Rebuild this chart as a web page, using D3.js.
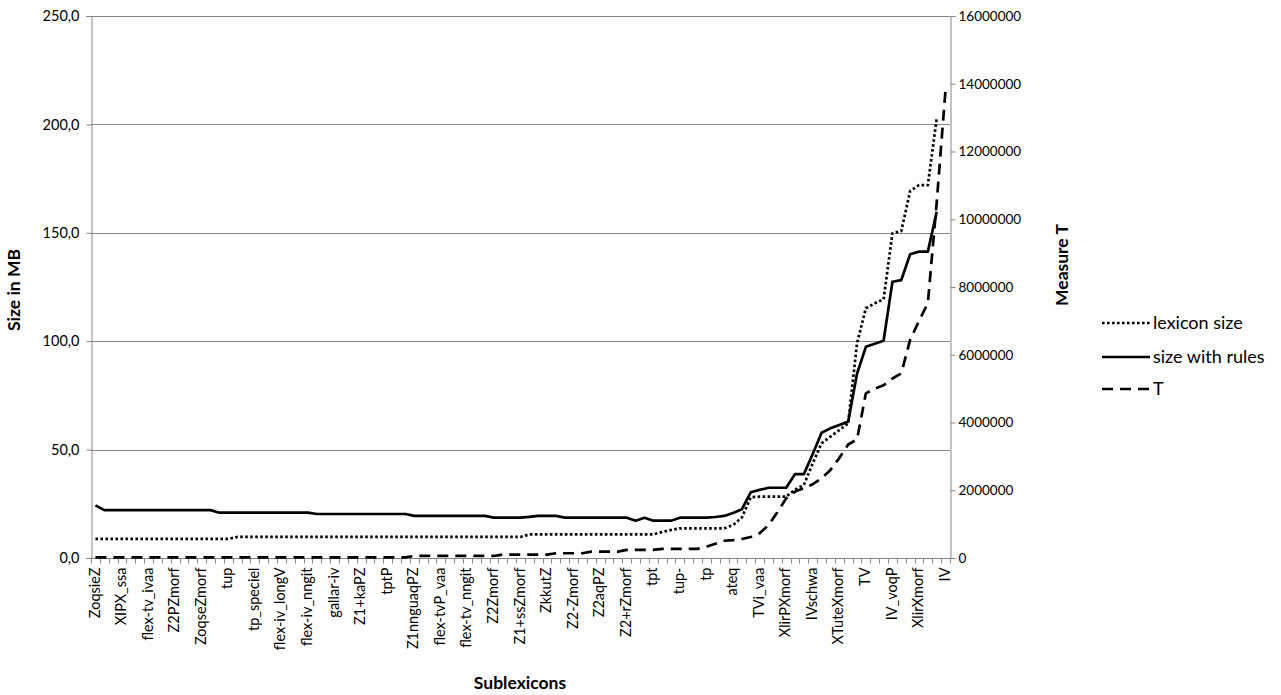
<!DOCTYPE html>
<html>
<head>
<meta charset="utf-8">
<script src="https://cdn.jsdelivr.net/npm/d3@7"></script>
<style>
  html, body { margin: 0; padding: 0; background: #ffffff; }
  svg { display: block; font-family: Lato, "Open Sans", sans-serif; }
</style>
</head>
<body>
<svg id="chart" width="1281" height="695"></svg>
<script>
// ---- Data ----
// 97 sublexicons; only every third name is printed on the axis in the reference
const labelledCategories = [
  "ZoqsieZ", "XIPX_ssa", "flex-tv_ivaa", "Z2PZmorf", "ZoqseZmorf", "tup", "tp_speciel",
  "flex-iv_longV", "flex-iv_nngit", "gallar-iv", "Z1+kaPZ", "tptP", "Z1nnguaqPZ",
  "flex-tvP_vaa", "flex-tv_nngit", "Z2Zmorf", "Z1+ssZmorf", "ZkkutZ", "Z2-Zmorf",
  "Z2aqPZ", "Z2+rZmorf", "tpt", "tup-", "tp", "ateq", "TVi_vaa", "XlirPXmorf",
  "IVschwa", "XTuteXmorf", "TV", "IV_voqP", "XlirXmorf", "IV"
];
const categoryCount = 97;
const labelStep = 3;

// lexicon size (MB)
const lexiconSize = [
  8.8, 8.8, 8.8, 8.8, 8.8, 8.8, 8.8, 8.8, 8.8, 8.8, 8.8, 8.8, 8.8, 8.8, 8.8, 8.8,
  9.7, 9.7, 9.7, 9.7, 9.7, 9.7, 9.7, 9.7, 9.7, 9.7, 9.7, 9.7, 9.7, 9.7, 9.7, 9.7, 9.7,
  9.7, 9.7, 9.7, 9.7, 9.7, 9.7, 9.7, 9.7, 9.7, 9.7, 9.7, 9.7, 9.7, 9.7, 9.7, 9.7,
  10.9, 10.9, 10.9, 10.9, 10.9, 10.9, 10.9, 10.9, 10.9, 10.9, 10.9, 10.9, 10.9, 10.9, 10.9,
  12.0, 12.9, 13.7, 13.7, 13.7, 13.7, 13.7, 13.7, 15.2, 18.7, 28.0,
  28.3, 28.3, 28.3, 28.3, 31.5, 33.7, 43.7, 52.9, 56.0, 59.0, 62.1,
  99.0, 115.2, 117.5, 119.3, 149.8, 150.8, 169.3, 172.0, 172.0, 202.8, null
];

// size with rules (MB)
const sizeWithRules = [
  24.3,
  22.1, 22.1, 22.1, 22.1, 22.1, 22.1, 22.1, 22.1, 22.1, 22.1, 22.1, 22.1, 22.1,
  20.9, 20.9, 20.9, 20.9, 20.9, 20.9, 20.9, 20.9, 20.9, 20.9, 20.9,
  20.3, 20.3, 20.3, 20.3, 20.3, 20.3, 20.3, 20.3, 20.3, 20.3, 20.3,
  19.4, 19.4, 19.4, 19.4, 19.4, 19.4, 19.4, 19.4, 19.4,
  18.6, 18.6, 18.6, 18.6, 19.0, 19.4, 19.4, 19.4,
  18.6, 18.6, 18.6, 18.6, 18.6, 18.6, 18.6, 18.6,
  17.2, 18.6, 17.2, 17.2, 17.2, 18.6, 18.6, 18.6, 18.6,
  18.9, 19.4, 20.8, 22.5, 30.3, 31.4, 32.4, 32.4, 32.4, 38.7, 38.7, 48.0,
  57.8, 59.8, 61.4, 62.9, 85.0, 97.4, 98.8, 100.2, 127.4, 128.2, 140.1, 141.3, 141.3, 159.7, null
];

// Measure T (right axis)
const measureT = [
  20000, 20000, 20000, 20000, 20000, 20000, 20000, 20000, 20000, 20000, 20000, 20000,
  20000, 20000, 20000, 20000, 20000, 20000, 20000, 20000, 20000, 20000, 20000, 20000,
  20000, 20000, 20000, 20000, 20000, 20000, 20000, 20000, 20000, 20000, 20000, 20000,
  60000, 60000, 60000, 60000, 60000, 60000, 60000, 60000, 60000, 60000,
  100000, 100000, 100000, 100000, 100000, 100000,
  140000, 140000, 140000, 140000,
  190000, 190000, 190000, 190000,
  240000, 240000, 240000, 240000,
  270000, 270000, 270000, 270000, 270000,
  330000, 420000, 510000, 530000, 560000, 620000, 730000, 970000, 1350000, 1760000,
  1960000, 2060000, 2180000, 2350000, 2600000, 2950000, 3350000, 3500000, 4860000,
  5000000, 5100000, 5300000, 5450000, 6440000, 7000000, 7520000, 10500000, 13840000
];

const leftTicks = [0, 50, 100, 150, 200, 250];
const rightTicks = [0, 2000000, 4000000, 6000000, 8000000, 10000000, 12000000, 14000000, 16000000];
const seriesNames = ["lexicon size", "size with rules", "T"];

// ---- Layout ----
const plot = { left: 91, right: 950, top: 16, bottom: 558 };
const axisColor = "#868686";
const gridColor = "#878787";
const tickFont = 14.5;
const rightTickFont = 13.5;
const titleFont = 17.5;
const legendFont = 18;

const svg = d3.select("#chart");

const categories = d3.range(categoryCount).map(i =>
  i % labelStep === 0 ? labelledCategories[i / labelStep] : "");

const x = d3.scaleBand().domain(d3.range(categoryCount)).range([plot.left, plot.right]).padding(0);
const cx = i => x(i) + x.bandwidth() / 2;
const yL = d3.scaleLinear().domain([0, 250]).range([plot.bottom, plot.top]);
const yR = d3.scaleLinear().domain([0, 16000000]).range([plot.bottom, plot.top]);

// Gridlines
svg.append("g").selectAll("line")
  .data(leftTicks.filter(d => d > 0))
  .join("line")
  .attr("x1", plot.left).attr("x2", plot.right)
  .attr("y1", d => Math.round(yL(d)) + 0.5).attr("y2", d => Math.round(yL(d)) + 0.5)
  .attr("stroke", gridColor).attr("stroke-width", 1);

// Left axis
const gL = svg.append("g").attr("transform", `translate(${plot.left + 0.5},0)`)
  .call(d3.axisLeft(yL).tickValues(leftTicks).tickSize(5).tickPadding(7)
    .tickFormat(d => d3.format(".1f")(d).replace(".", ",")));
gL.select(".domain").attr("stroke", axisColor);
gL.selectAll(".tick line").attr("stroke", axisColor);
gL.selectAll(".tick text").attr("font-size", tickFont).attr("fill", "#000")
  .attr("font-family", "Lato, sans-serif");

// Right axis
const gR = svg.append("g").attr("transform", `translate(${plot.right + 0.5},0)`)
  .call(d3.axisRight(yR).tickValues(rightTicks).tickSize(5).tickPadding(3)
    .tickFormat(d => String(d)));
gR.select(".domain").attr("stroke", axisColor);
gR.selectAll(".tick line").attr("stroke", axisColor);
gR.selectAll(".tick text").attr("font-size", rightTickFont).attr("fill", "#000")
  .attr("font-family", "Lato, sans-serif");

// Bottom axis: line, ticks at category boundaries, labels every third category
const gB = svg.append("g").attr("transform", `translate(0,${plot.bottom + 0.5})`);
gB.append("line").attr("x1", plot.left).attr("x2", plot.right + 1)
  .attr("stroke", axisColor);
gB.selectAll("line.tk")
  .data(d3.range(categoryCount + 1))
  .join("line").attr("class", "tk")
  .attr("x1", i => Math.round(i < categoryCount ? x(i) : plot.right) + 0.5)
  .attr("x2", i => Math.round(i < categoryCount ? x(i) : plot.right) + 0.5)
  .attr("y1", 0).attr("y2", 5)
  .attr("stroke", axisColor);
gB.selectAll("text")
  .data(d3.range(categoryCount).filter(i => categories[i] !== ""))
  .join("text")
  .attr("transform", i => `translate(${cx(i) - 1},9) rotate(-90)`)
  .attr("text-anchor", "end")
  .attr("dy", "0.35em")
  .attr("font-size", tickFont)
  .attr("fill", "#000")
  .text(i => categories[i]);

// Lines
const lineL = d3.line().defined(d => d != null).x((d, i) => cx(i)).y(d => yL(d));
const lineR = d3.line().defined(d => d != null).x((d, i) => cx(i)).y(d => yR(d));

const styles = [
  { dash: "2.6,2.4" },
  { dash: null },
  { dash: "11,7" }
];

svg.append("path").datum(measureT)
  .attr("d", lineR).attr("fill", "none").attr("stroke", "#000")
  .attr("stroke-width", 2.7).attr("stroke-dasharray", styles[2].dash)
  .attr("stroke-linejoin", "round");
svg.append("path").datum(lexiconSize)
  .attr("d", lineL).attr("fill", "none").attr("stroke", "#000")
  .attr("stroke-width", 2.7).attr("stroke-dasharray", styles[0].dash)
  .attr("stroke-linejoin", "round");
svg.append("path").datum(sizeWithRules)
  .attr("d", lineL).attr("fill", "none").attr("stroke", "#000")
  .attr("stroke-width", 2.7)
  .attr("stroke-linejoin", "round");

// Axis titles
svg.append("text")
  .attr("transform", `translate(20,${(plot.top + plot.bottom) / 2 + 3}) rotate(-90)`)
  .attr("text-anchor", "middle").attr("font-weight", "bold").attr("font-size", titleFont)
  .text("Size in MB");
svg.append("text")
  .attr("transform", `translate(1068,265) rotate(-90)`)
  .attr("text-anchor", "middle").attr("font-weight", "bold").attr("font-size", titleFont)
  .text("Measure T");
svg.append("text")
  .attr("x", 520).attr("y", 689)
  .attr("text-anchor", "middle").attr("font-weight", "bold").attr("font-size", titleFont)
  .text("Sublexicons");

// Legend
const legendY = [323, 357, 389];
const lg = svg.append("g");
seriesNames.forEach((name, k) => {
  lg.append("line")
    .attr("x1", 1102).attr("x2", 1150)
    .attr("y1", legendY[k]).attr("y2", legendY[k])
    .attr("stroke", "#000").attr("stroke-width", 2.7)
    .attr("stroke-dasharray", styles[k].dash);
  lg.append("text")
    .attr("x", 1153).attr("y", legendY[k]).attr("dy", "0.35em")
    .attr("font-size", legendFont).attr("fill", "#000")
    .text(name);
});
</script>
</body>
</html>
